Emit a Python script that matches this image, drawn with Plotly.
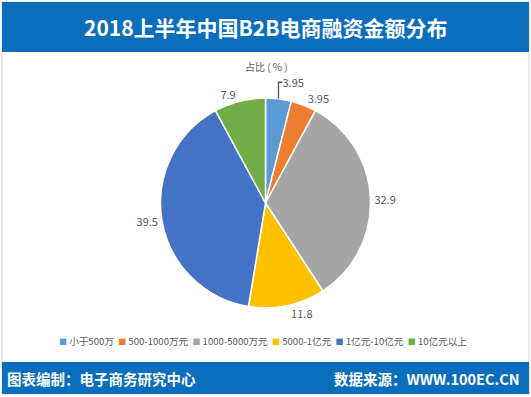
import plotly.graph_objects as go

categories = ["小于500万", "500-1000万元", "1000-5000万元", "5000-1亿元", "1亿元-10亿元", "10亿元以上"]
values = [3.95, 3.95, 32.9, 11.8, 39.5, 7.9]
colors = ["#5B9BD5", "#ED7D31", "#A5A5A5", "#FFC000", "#4472C4", "#70AD47"]

title_text = "2018上半年中国B2B电商融资金额分布"
subtitle_text = "占比 ( % )"
footer_left = "图表编制：电子商务研究中心"
footer_right = "数据来源：WWW.100EC.CN"

W, H = 531, 397
FONT = "Noto Sans CJK SC"
BLUE = "#0A6EBD"

fig = go.Figure()
fig.add_trace(go.Pie(
    labels=categories,
    values=values,
    marker=dict(colors=colors, line=dict(color="white", width=1.5)),
    sort=False,
    direction="clockwise",
    rotation=0,
    textposition="outside",
    texttemplate="%{value}",
    textfont=dict(size=11, color="#595959", family=FONT),
    hoverinfo="label+value",
    domain=dict(x=[160.5 / W, 370.5 / W], y=[1 - 308 / H, 1 - 98 / H]),
    showlegend=False,
))

shapes = [
    dict(type="rect", xref="paper", yref="paper", x0=2 / W, x1=529 / W, y0=1 - 394 / H, y1=1 - 2 / H,
         line=dict(color="#D9D9D9", width=1), fillcolor="white", layer="below"),
    dict(type="rect", xref="paper", yref="paper", x0=2 / W, x1=529 / W, y0=1 - 52 / H, y1=1 - 2 / H,
         line=dict(width=0), fillcolor=BLUE, layer="below"),
    dict(type="rect", xref="paper", yref="paper", x0=2 / W, x1=529 / W, y0=1 - 394 / H, y1=1 - 362 / H,
         line=dict(width=0), fillcolor=BLUE, layer="below"),
]

legend_html = "&nbsp;&nbsp;".join(
    f'<span style="color:{c};font-size:8px">■</span> {cat}' for cat, c in zip(categories, colors)
)

annotations = [
    dict(text="<b>" + title_text + "</b>", x=0.5, y=1 - 27 / H, xref="paper", yref="paper",
         showarrow=False, font=dict(size=21, color="white", family=FONT), xanchor="center", yanchor="middle"),
    dict(text=subtitle_text, x=266 / W, y=1 - 67 / H, xref="paper", yref="paper",
         showarrow=False, font=dict(size=10, color="#595959", family=FONT), xanchor="center", yanchor="middle"),
    dict(text=legend_html, x=263 / W, y=1 - 341 / H, xref="paper", yref="paper",
         showarrow=False, font=dict(size=9.6, color="#595959", family=FONT), xanchor="center", yanchor="middle"),
    dict(text="<b>" + footer_left + "</b>", x=5 / W, y=1 - 378 / H, xref="paper", yref="paper",
         showarrow=False, font=dict(size=14.5, color="white", family=FONT), xanchor="left", yanchor="middle"),
    dict(text="<b>" + footer_right + "</b>", x=522 / W, y=1 - 378 / H, xref="paper", yref="paper",
         showarrow=False, font=dict(size=14.5, color="white", family=FONT), xanchor="right", yanchor="middle"),
]

fig.update_layout(
    width=W, height=H,
    margin=dict(l=0, r=0, t=0, b=0),
    paper_bgcolor="white",
    plot_bgcolor="white",
    shapes=shapes,
    annotations=annotations,
    showlegend=False,
    font=dict(family=FONT),
)

fig.write_html("out.html", config={"displayModeBar": False},
               post_script="document.body.style.margin='0';document.body.style.overflow='hidden';")
